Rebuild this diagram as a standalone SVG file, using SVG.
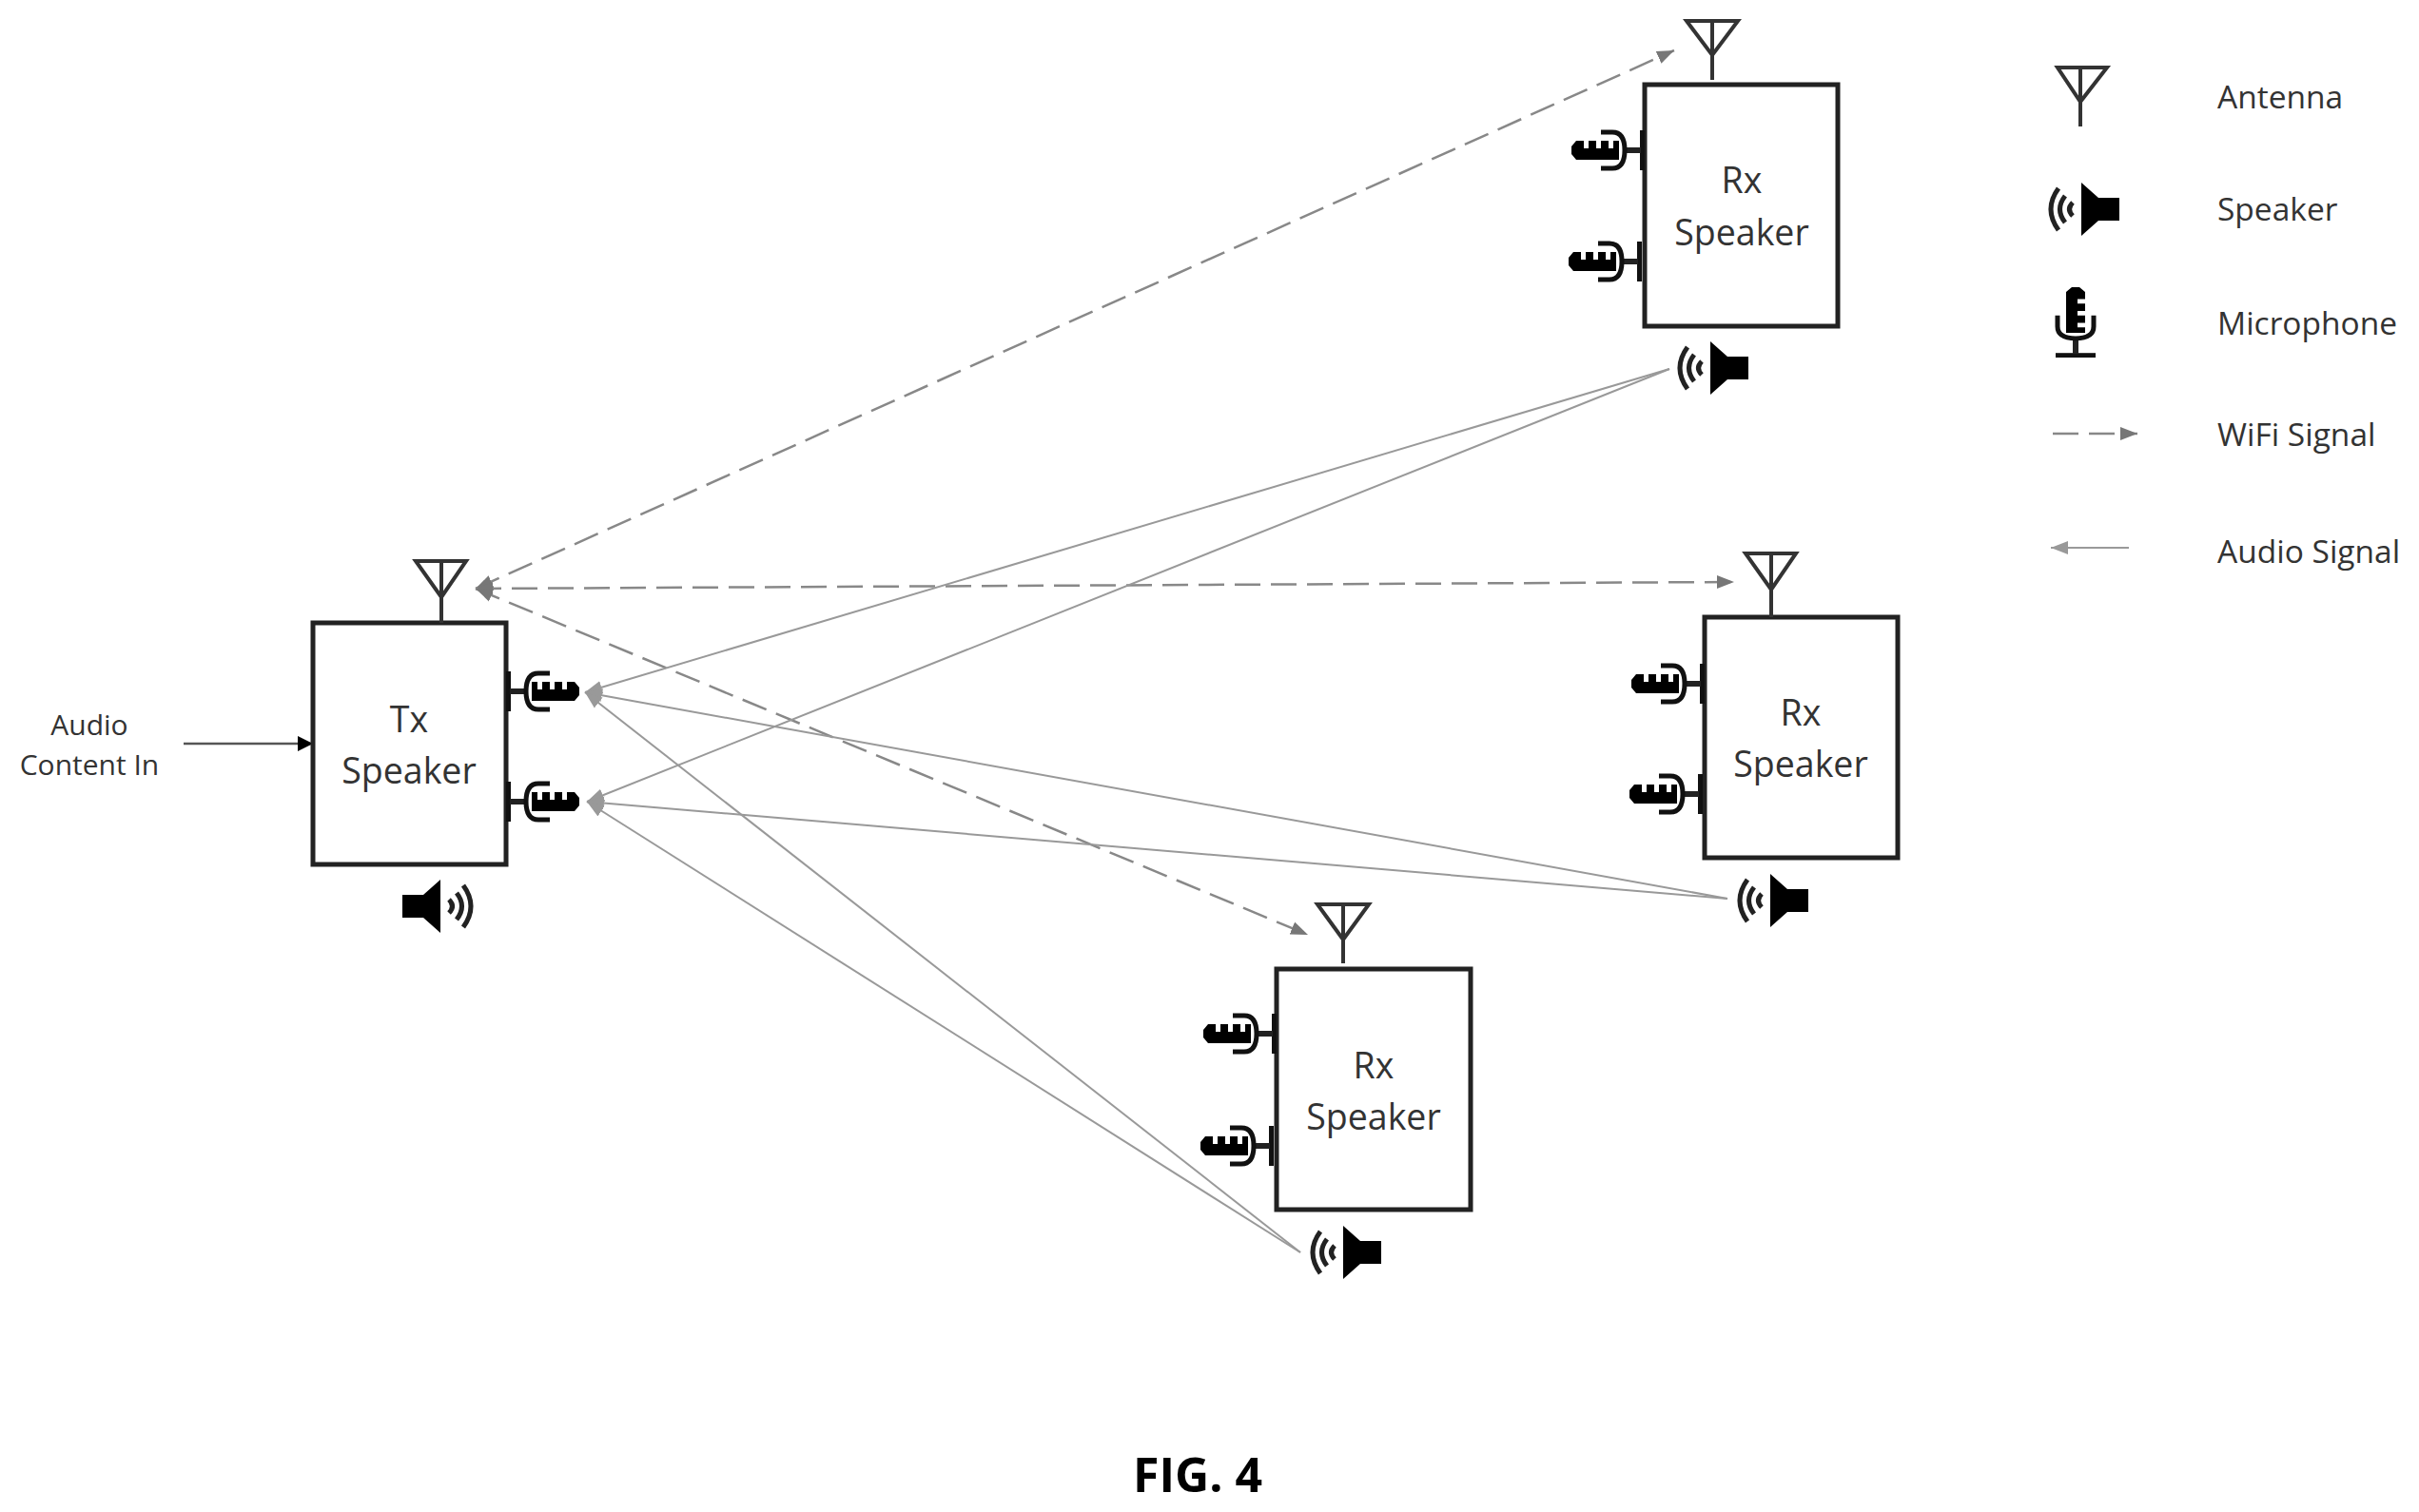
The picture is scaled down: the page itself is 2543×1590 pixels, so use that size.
<svg xmlns="http://www.w3.org/2000/svg" xmlns:xlink="http://www.w3.org/1999/xlink" width="2543" height="1590" viewBox="0 0 2543 1590">
<style>
.box{fill:#fff;stroke:#222;stroke-width:5}
.t{font-family:"Open Sans","Liberation Sans",sans-serif;fill:#333;text-anchor:middle}
.big{font-size:37.5px}
.leg{font-size:33.5px;text-anchor:start}
.small{font-size:30px}
.fig{font-family:"Open Sans","Liberation Sans",sans-serif;font-weight:700;font-size:50px;fill:#000;text-anchor:middle}
.ant{fill:none;stroke:#333;stroke-width:4}
.wifi{fill:none;stroke:#888;stroke-width:2.5;stroke-dasharray:27 11}
.audio{fill:none;stroke:#999;stroke-width:2}
.input{fill:none;stroke:#555;stroke-width:2.5}
.wave{fill:none;stroke:#222;stroke-width:5}
</style>
<defs>
<marker id="wh" markerUnits="userSpaceOnUse" markerWidth="18" markerHeight="16" refX="18" refY="8" orient="auto-start-reverse"><path d="M0 1L18 8L0 15Z" fill="#777"/></marker>
<marker id="ah" markerUnits="userSpaceOnUse" markerWidth="18" markerHeight="16" refX="18" refY="8" orient="auto-start-reverse"><path d="M0 1L18 8L0 15Z" fill="#999"/></marker>
<marker id="bh" markerUnits="userSpaceOnUse" markerWidth="16" markerHeight="16" refX="16" refY="8" orient="auto"><path d="M0 0L16 8L0 16Z" fill="#000"/></marker>
<g id="mic">
<rect x="0" y="-21" width="5" height="42" fill="#111"/>
<rect x="4" y="-3" width="17" height="6" fill="#222"/>
<path d="M46 -19H34Q21 -19 21 0Q21 19 34 19H46" fill="none" stroke="#111" stroke-width="5"/>
<path d="M27 -10H33V-2H38V-10H46V-2H51V-10H59V-2H64V-10H72L77 -4V4L72 10H27Z" fill="#000"/>
</g>
<g id="spk">
<path d="M0 -28V28L-18 12H-40V-12H-18Z" fill="#000"/>
<path class="wave" d="M9 -7Q16 0 9 7M17 -14Q28 0 17 14M24 -22Q40 0 24 22"/>
</g>
</defs>

<g id="connectors">
<path class="wifi" marker-start="url(#wh)" marker-end="url(#wh)" d="M500 619L1760 53"/>
<path class="wifi" marker-start="url(#wh)" marker-end="url(#wh)" d="M500 619L1823 612"/>
<path class="wifi" marker-start="url(#wh)" marker-end="url(#wh)" d="M500 619L1375 983"/>
<path class="audio" marker-end="url(#ah)" d="M1755 388L615 728"/>
<path class="audio" marker-end="url(#ah)" d="M1755 388L617 843"/>
<path class="audio" marker-end="url(#ah)" d="M1816 945L615 728"/>
<path class="audio" marker-end="url(#ah)" d="M1816 945L617 843"/>
<path class="audio" marker-end="url(#ah)" d="M1367 1317L615 728"/>
<path class="audio" marker-end="url(#ah)" d="M1367 1317L617 843"/>
<path class="input" marker-end="url(#bh)" d="M193 782H329"/>
</g>

<g id="audio-in">
<text class="t small" x="94" y="773">Audio</text>
<text class="t small" x="94" y="815">Content In</text>
</g>

<g id="tx-speaker">
<rect class="box" x="329" y="655" width="203" height="254"/>
<path class="ant" d="M437 590H490L464 628ZM464 590V655"/>
<use href="#mic" xlink:href="#mic" transform="translate(532 727)"/>
<use href="#mic" xlink:href="#mic" transform="translate(532 843)"/>
<use href="#spk" xlink:href="#spk" transform="translate(463 953)"/>
<text class="t big" x="430" y="770">Tx</text>
<text class="t big" x="430" y="824">Speaker</text>
</g>

<g id="rx-speaker-top">
<rect class="box" x="1729" y="89" width="203" height="254"/>
<path class="ant" d="M1773 22H1827L1800 58ZM1800 22V84"/>
<use href="#mic" xlink:href="#mic" transform="translate(1729 158) scale(-1 1)"/>
<use href="#mic" xlink:href="#mic" transform="translate(1726 275) scale(-1 1)"/>
<use href="#spk" xlink:href="#spk" transform="translate(1798 387) scale(-1 1)"/>
<text class="t big" x="1831" y="203">Rx</text>
<text class="t big" x="1831" y="258">Speaker</text>
</g>

<g id="rx-speaker-mid">
<rect class="box" x="1792" y="649" width="203" height="253"/>
<path class="ant" d="M1835 582H1888L1862 620ZM1862 582V649"/>
<use href="#mic" xlink:href="#mic" transform="translate(1792 719) scale(-1 1)"/>
<use href="#mic" xlink:href="#mic" transform="translate(1790 835) scale(-1 1)"/>
<use href="#spk" xlink:href="#spk" transform="translate(1861 947) scale(-1 1)"/>
<text class="t big" x="1893" y="763">Rx</text>
<text class="t big" x="1893" y="817">Speaker</text>
</g>

<g id="rx-speaker-bottom">
<rect class="box" x="1342" y="1019" width="204" height="253"/>
<path class="ant" d="M1385 951H1439L1412 988ZM1412 951V1013"/>
<use href="#mic" xlink:href="#mic" transform="translate(1342 1087) scale(-1 1)"/>
<use href="#mic" xlink:href="#mic" transform="translate(1339 1205) scale(-1 1)"/>
<use href="#spk" xlink:href="#spk" transform="translate(1412 1317) scale(-1 1)"/>
<text class="t big" x="1444" y="1134">Rx</text>
<text class="t big" x="1444" y="1188">Speaker</text>
</g>

<g id="legend">
<path class="ant" d="M2163 71H2215L2187 107ZM2187 71V133"/>
<use href="#spk" xlink:href="#spk" transform="translate(2188 220) scale(-1 1)"/>
<use href="#mic" xlink:href="#mic" transform="translate(2182 376) rotate(-90) scale(0.96 -1)"/>
<path class="wifi" marker-end="url(#wh)" d="M2158 456H2247"/>
<path class="audio" marker-start="url(#ah)" d="M2156 576H2238"/>
<text class="t leg" x="2331" y="114">Antenna</text>
<text class="t leg" x="2331" y="232">Speaker</text>
<text class="t leg" x="2331" y="352">Microphone</text>
<text class="t leg" x="2331" y="469">WiFi Signal</text>
<text class="t leg" x="2331" y="592">Audio Signal</text>
</g>

<text class="fig" x="1259" y="1569">FIG. 4</text>
</svg>
